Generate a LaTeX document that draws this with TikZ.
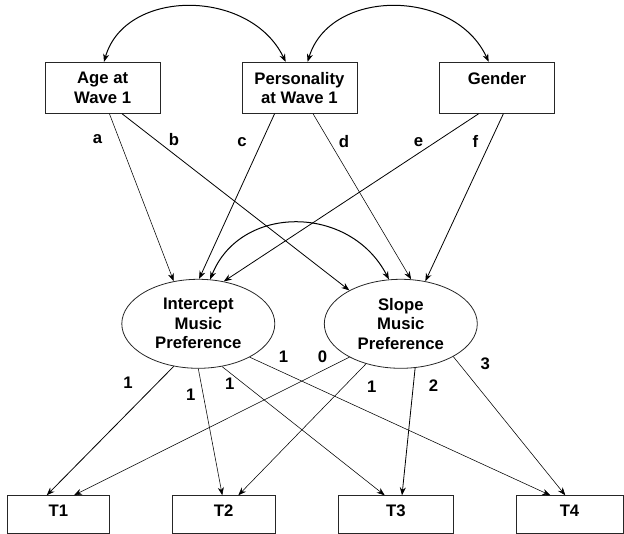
\documentclass[tikz,border=0pt]{standalone}
\usepackage{fontspec}
\setmainfont{Liberation Sans}
\usetikzlibrary{shapes.geometric,arrows.meta}

\begin{document}
\begin{tikzpicture}[x=1pt, y=-1pt,
		every node/.style={font=\fontsize{16.7}{19.5}\selectfont\bfseries},
		obs/.style={draw=black!85, line width=0.8pt, minimum width=115pt, minimum height=51pt, inner sep=0pt, align=center},
		ind/.style={draw=black!85, line width=0.8pt, minimum height=37.6pt, inner sep=0pt, text depth=7pt},
		lat/.style={draw=black!85, ellipse, line width=0.8pt, minimum width=153pt, minimum height=89pt, inner sep=0pt, align=center},
		reg/.style={-{Stealth[length=8pt,width=6pt]}, line width=0.55pt},
		cov/.style={{Stealth[length=8pt,width=6pt]}-{Stealth[length=8pt,width=6pt]}, line width=1pt},
		coef/.style={inner sep=0pt}]
		\useasboundingbox (0,0) rectangle (624,534);
		\node[obs] (age) at (102.7,87.8) {Age at\\Wave 1};
		\node[obs] (pers) at (299.4,87.8) {Personality\\at Wave 1};
		\node[obs] (gend) at (497,87.8) {Gender\\\phantom{Wave 1}};
		\node[lat] (icpt) at (198.3,323.8) {Intercept\\Music\\Preference};
		\node[lat] (slope) at (400.8,323.8) {Slope\\Music\\Preference};
		\node[ind, minimum width=102pt] (t1) at (58.3,514.5) {T1};
		\node[ind, minimum width=102.7pt] (t2) at (223.7,514.5) {T2};
		\node[ind, minimum width=114.3pt] (t3) at (395.8,514.5) {T3};
		\node[ind, minimum width=107pt] (t4) at (569.5,514.5) {T4};
		\draw[cov] ([xshift=1.3pt]age.north) .. controls (125,-12) and (250,-12) .. ([xshift=-13.7pt]pers.north);
		\draw[cov] ([xshift=8.2pt]pers.north) .. controls (330,-12) and (455,-12) .. ([xshift=-8.3pt]gend.north);
		\draw[cov] (icpt.75) .. controls (240,204) and (350,204) .. (slope.105);
		\draw[reg] ([xshift=6.7pt]age.south) -- (icpt.120);
		\draw[reg, line width=0.8pt] ([xshift=19.3pt]age.south) -- (slope.147);
		\draw[reg, line width=0.8pt] ([xshift=-24.8pt]pers.south) -- (icpt.89);
		\draw[reg] ([xshift=13.6pt]pers.south) -- (slope.77);
		\draw[reg, line width=0.8pt] ([xshift=-18.3pt]gend.south) -- (icpt.59);
		\draw[reg, line width=0.8pt] ([xshift=6.4pt]gend.south) -- (slope.60);
		\draw[reg, line width=0.8pt] (icpt.-120) -- ([xshift=-11.6pt]t1.north);
		\draw[reg] (icpt.-90) -- ([xshift=-1.4pt]t2.north);
		\draw[reg] (icpt.-61) -- ([xshift=-11.1pt]t3.north);
		\draw[reg] (icpt.-33) -- ([xshift=-19.2pt]t4.north);
		\draw[reg] (slope.-147) -- ([xshift=15.7pt]t1.north);
		\draw[reg] (slope.-131) -- ([xshift=14.6pt]t2.north);
		\draw[reg, line width=0.8pt] (slope.-72) -- ([xshift=6.2pt]t3.north);
		\draw[reg] (slope.-32) -- ([xshift=-4.2pt]t4.north);
		\node[coef] (la) at (97.5,139.3) {a};
		\node[coef] (lb) at (174,140) {b};
		\node[coef] (lc) at (242,141.7) {c};
		\node[coef] (ld) at (344,141.7) {d};
		\node[coef] (le) at (418.6,141.7) {e};
		\node[coef] (lf) at (475.5,141.7) {f};
		\node[coef] (l1a) at (128,382.7) {1};
		\node[coef] (l1b) at (190.8,394.5) {1};
		\node[coef] (l1c) at (229.8,384.2) {1};
		\node[coef] (l1d) at (283.5,357) {1};
		\node[coef] (l0) at (322.5,356.4) {0};
		\node[coef] (l1e) at (371.8,386.4) {1};
		\node[coef] (l2) at (433.5,385.5) {2};
		\node[coef] (l3) at (485.3,364) {3};
	\end{tikzpicture}
\end{document}
